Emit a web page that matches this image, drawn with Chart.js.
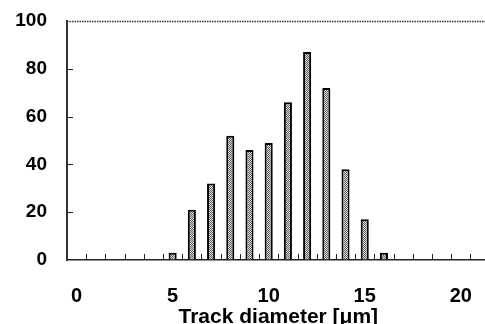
<!DOCTYPE html>
<html><head><meta charset="utf-8">
<script src="https://cdn.jsdelivr.net/npm/chart.js@4"></script>
<style>
html,body{margin:0;padding:0;overflow:hidden;background:#fff;width:485px;height:324px}
#wrap{position:absolute;left:0;top:0;width:504px;height:330px}
</style></head><body>
<div id="wrap"><canvas id="c" width="504" height="330"></canvas></div>
<script>
const categories = ['0','1','2','3','4','5','6','7','8','9','10','11','12','13','14','15','16','17','18','19','20','21'];
const counts = [0,0,0,0,0,3,21,32,52,46,49,66,87,72,38,17,3,0,0,0,0,0];
const xLabelsShown = ['0','5','10','15','20'];
const yTicks = [0,20,40,60,80,100];
const xTitle = 'Track diameter [μm]';

function makePattern(){
  const p = document.createElement('canvas');
  p.width = 2; p.height = 2;
  const g = p.getContext('2d');
  g.fillStyle = '#dcdcdc'; g.fillRect(0,0,2,2);
  g.fillStyle = '#5e5e5e'; g.fillRect(0,0,1,1); g.fillRect(1,1,1,1);
  return document.getElementById('c').getContext('2d').createPattern(p,'repeat');
}

const frame = {
  id:'frame',
  afterDraw(chart){
    const {ctx, chartArea:a, scales:{x,y}} = chart;
    ctx.save();
    ctx.strokeStyle = '#333';
    ctx.lineWidth = 1.5;
    ctx.setLineDash([1.5,1]);
    ctx.beginPath(); ctx.moveTo(a.left, a.top+0.5); ctx.lineTo(a.right, a.top+0.5); ctx.stroke();
    ctx.setLineDash([]);
    ctx.strokeStyle = '#222'; ctx.lineWidth = 1;
    for(let i=0;i<categories.length;i++){
      const px = Math.round((x.getPixelForValue(i)+x.getPixelForValue(i+1))/2)+0.5;
      ctx.beginPath(); ctx.moveTo(px, a.bottom); ctx.lineTo(px, a.bottom-6); ctx.stroke();
    }
    yTicks.forEach(v=>{
      if(v===0||v===100) return;
      const py = Math.round(y.getPixelForValue(v))+0.5;
      ctx.beginPath(); ctx.moveTo(a.left, py); ctx.lineTo(a.left+6, py); ctx.stroke();
    });
    ctx.restore();
  }
};

new Chart(document.getElementById('c'), {
  type:'bar',
  data:{labels:categories, datasets:[{data:counts, backgroundColor:makePattern(), borderColor:'#000', borderWidth:2, borderSkipped:'bottom', barPercentage:0.42, categoryPercentage:1}]},
  options:{
    responsive:false, animation:false, devicePixelRatio:1,
    layout:{padding:{top:21,left:0,right:0,bottom:0}},
    plugins:{legend:{display:false}, tooltip:{enabled:false}},
    scales:{
      x:{
        grid:{display:false, drawTicks:false},
        border:{display:true, color:'#222', width:1.5},
        ticks:{autoSkip:false, maxRotation:0, padding:24, color:'#000',
          font:{family:'Liberation Sans', size:20, weight:'bold'},
          callback:(v,i)=> xLabelsShown.includes(categories[i]) ? categories[i] : ''},
        title:{display:true, text:xTitle, color:'#000', padding:{top:0,bottom:0},
          font:{family:'Liberation Sans', size:21, weight:'bold'}},
        afterFit(s){ s.height = 70; }
      },
      y:{
        min:0, max:100,
        grid:{display:true, drawOnChartArea:false, drawTicks:true, tickLength:19, color:'rgba(0,0,0,0)'},
        border:{display:true, color:'#333', width:2},
        ticks:{stepSize:20, padding:1, color:'#000',
          font:{family:'Liberation Sans', size:19, weight:'bold'}},
        afterFit(s){ s.width = 67; }
      }
    }
  },
  plugins:[frame]
});
</script></body></html>
